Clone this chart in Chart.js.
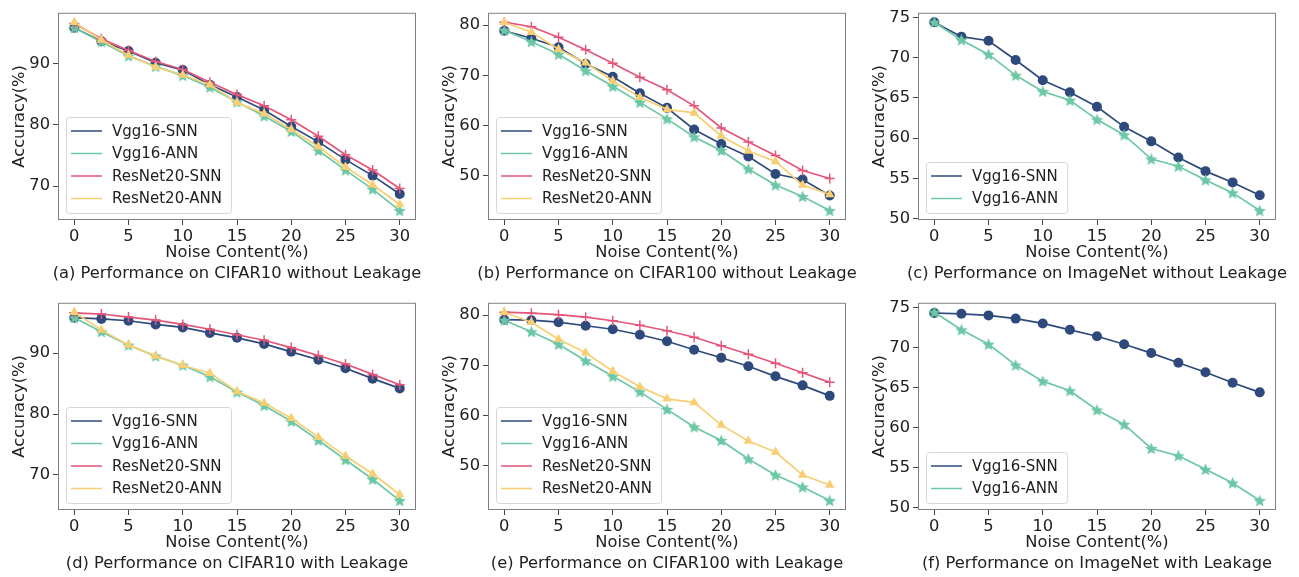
<!DOCTYPE html>
<html>
<head>
<meta charset="utf-8">
<script src="https://cdn.jsdelivr.net/npm/chart.js@4.4.1/dist/chart.umd.min.js"></script>
<style>
body { margin:0; background:#fff; width:1299px; height:577px; position:relative; overflow:hidden; font-family:'DejaVu Sans', sans-serif; }
.panel { position:absolute; width:430px; height:288px; }
.panel canvas { position:absolute; left:0; top:0; }
.caption { position:absolute; left:-79px; width:632px; top:263px; text-align:center; font-size:16.3px; line-height:20px; color:#222; white-space:nowrap; }
</style>
</head>
<body>
<div class="panel" style="left:0;top:0"><canvas id="chartA" width="430" height="288"></canvas><div class="caption">(a) Performance on CIFAR10 without Leakage</div></div>
<div class="panel" style="left:430px;top:0"><canvas id="chartB" width="430" height="288"></canvas><div class="caption">(b) Performance on CIFAR100 without Leakage</div></div>
<div class="panel" style="left:860px;top:0"><canvas id="chartC" width="430" height="288"></canvas><div class="caption">(c) Performance on ImageNet without Leakage</div></div>
<div class="panel" style="left:0;top:290px"><canvas id="chartD" width="430" height="288"></canvas><div class="caption">(d) Performance on CIFAR10 with Leakage</div></div>
<div class="panel" style="left:430px;top:290px"><canvas id="chartE" width="430" height="288"></canvas><div class="caption">(e) Performance on CIFAR100 with Leakage</div></div>
<div class="panel" style="left:860px;top:290px"><canvas id="chartF" width="430" height="288"></canvas><div class="caption">(f) Performance on ImageNet with Leakage</div></div>
<script>
// noise levels on the x axis and tick values
const noiseLevels = [0, 2.5, 5, 7.5, 10, 12.5, 15, 17.5, 20, 22.5, 25, 27.5, 30];
const xTickValues = [0, 5, 10, 15, 20, 25, 30];
const seriesLabels = ['Vgg16-SNN', 'Vgg16-ANN', 'ResNet20-SNN', 'ResNet20-ANN'];

// (a) CIFAR10 without leakage
const cifar10NoLeakVggSnn = [95.8, 93.6, 92.0, 90.1, 88.9, 86.5, 84.5, 82.4, 79.7, 77.2, 74.3, 71.7, 68.7];
const cifar10NoLeakVggAnn = [95.8, 93.5, 91.2, 89.5, 88.0, 86.1, 83.7, 81.4, 78.9, 75.8, 72.6, 69.5, 66.0];
const cifar10NoLeakResSnn = [96.5, 94.0, 92.1, 90.3, 89.0, 86.9, 84.9, 83.1, 80.8, 78.1, 75.1, 72.6, 69.6];
const cifar10NoLeakResAnn = [96.7, 93.8, 91.3, 89.4, 88.1, 86.5, 83.6, 81.8, 79.2, 76.4, 73.1, 70.2, 67.0];

// (b) CIFAR100 without leakage
const cifar100NoLeakVggSnn = [78.9, 77.4, 75.6, 72.3, 69.7, 66.4, 63.5, 59.2, 56.3, 53.8, 50.3, 49.2, 46.0];
const cifar100NoLeakVggAnn = [79.0, 76.7, 74.2, 70.9, 67.8, 64.6, 61.3, 57.7, 55.0, 51.3, 48.1, 45.8, 43.0];
const cifar100NoLeakResSnn = [80.6, 79.7, 77.6, 75.1, 72.4, 69.6, 67.1, 63.9, 59.5, 56.7, 54.0, 51.0, 49.4];
const cifar100NoLeakResAnn = [80.6, 78.6, 75.2, 72.5, 68.9, 65.6, 63.2, 62.5, 57.9, 54.9, 52.8, 48.1, 46.2];

// (c) ImageNet without leakage
const imagenetNoLeakVggSnn = [74.4, 72.6, 72.1, 69.7, 67.2, 65.7, 63.9, 61.4, 59.6, 57.6, 55.9, 54.5, 52.9];
const imagenetNoLeakVggAnn = [74.4, 72.2, 70.4, 67.8, 65.8, 64.7, 62.3, 60.4, 57.4, 56.5, 54.8, 53.2, 51.0];

// (d) CIFAR10 with leakage
const cifar10LeakVggSnn = [95.8, 95.6, 95.3, 94.7, 94.2, 93.3, 92.5, 91.5, 90.2, 88.9, 87.5, 85.8, 84.2];
const cifar10LeakVggAnn = [95.8, 93.5, 91.3, 89.5, 88.0, 86.1, 83.6, 81.4, 78.8, 75.7, 72.5, 69.3, 65.8];
const cifar10LeakResSnn = [96.6, 96.4, 95.9, 95.4, 94.7, 93.9, 93.0, 92.1, 90.9, 89.6, 88.2, 86.5, 84.8];
const cifar10LeakResAnn = [96.7, 93.8, 91.3, 89.5, 88.0, 86.7, 83.7, 81.8, 79.3, 76.2, 73.1, 70.2, 66.8];

// (e) CIFAR100 with leakage
const cifar100LeakVggSnn = [79.1, 79.0, 78.6, 77.9, 77.2, 76.1, 74.8, 73.1, 71.5, 69.8, 67.8, 66.0, 63.9];
const cifar100LeakVggAnn = [79.0, 76.7, 74.2, 70.9, 67.8, 64.7, 61.2, 57.7, 55.0, 51.3, 48.1, 45.7, 43.0];
const cifar100LeakResSnn = [80.6, 80.4, 80.1, 79.6, 78.9, 78.0, 76.9, 75.6, 73.9, 72.2, 70.4, 68.5, 66.6];
const cifar100LeakResAnn = [80.6, 78.6, 75.2, 72.5, 68.8, 65.7, 63.3, 62.6, 58.1, 54.9, 52.7, 48.1, 46.1];

// (f) ImageNet with leakage
const imagenetLeakVggSnn = [74.3, 74.2, 74.0, 73.6, 73.0, 72.2, 71.4, 70.4, 69.3, 68.1, 66.9, 65.6, 64.4];
const imagenetLeakVggAnn = [74.4, 72.2, 70.4, 67.8, 65.8, 64.6, 62.2, 60.4, 57.4, 56.5, 54.8, 53.1, 50.9];

// y tick values
const cifar10Ticks = [70, 80, 90];
const cifar100Ticks = [50, 60, 70, 80];
const imagenetTicks = [50, 55, 60, 65, 70, 75];

const FONT = "'DejaVu Sans', sans-serif";
const AXIS_SIZE = 16.3;
const TEXT = '#222';
const colors = ['#2e4a7d', '#6cc7a4', '#e5557a', '#f7cf72'];

function makeStar(color, size) {
    const c = document.createElement('canvas');
    c.width = size; c.height = size;
    const ctx = c.getContext('2d');
    const cx = size / 2, cy = size / 2 + 0.5, R = size / 2, r = R * 0.45;
    ctx.beginPath();
    for (let i = 0; i < 10; i++) {
        const rad = i % 2 === 0 ? R : r;
        const a = -Math.PI / 2 + i * Math.PI / 5;
        const x = cx + rad * Math.cos(a), y = cy + rad * Math.sin(a);
        if (i === 0) ctx.moveTo(x, y); else ctx.lineTo(x, y);
    }
    ctx.closePath();
    ctx.fillStyle = color;
    ctx.fill();
    return c;
}
const starImg = makeStar(colors[1], 13);

const markers = [
    { pointStyle: 'circle', pointRadius: 5, pointBorderWidth: 0 },
    { pointStyle: starImg, pointRadius: 6, pointBorderWidth: 0 },
    { pointStyle: 'cross', pointRadius: 5, pointBorderWidth: 1.5 },
    { pointStyle: 'triangle', pointRadius: 5.5, pointBorderWidth: 0 }
];

// full box around plot area + legend inside lower-left
const framePlugin = {
    id: 'frame',
    afterDatasetsDraw(chart) {
        const { ctx, chartArea: a } = chart;
        ctx.save();
        ctx.strokeStyle = '#808080';
        ctx.lineWidth = 1;
        ctx.strokeRect(a.left + 0.5, a.top + 0.5, a.right - a.left - 1, a.bottom - a.top - 1);

        // legend
        const ds = chart.data.datasets;
        ctx.font = '15px ' + FONT;
        let maxW = 0;
        ds.forEach(d => { maxW = Math.max(maxW, ctx.measureText(d.label).width); });
        const rowH = 22.5;
        const w = 46 + maxW + 9;
        const h = ds.length * rowH + 6;
        const x0 = a.left + 8;
        const y0 = a.bottom - 7 - h;
        ctx.beginPath();
        ctx.roundRect(x0 + 0.5, y0 + 0.5, w, h, 3);
        ctx.fillStyle = 'rgba(255,255,255,0.8)';
        ctx.fill();
        ctx.strokeStyle = '#d6d6d6';
        ctx.stroke();
        ds.forEach((d, i) => {
            const cy = y0 + 14 + i * rowH;
            ctx.beginPath();
            ctx.moveTo(x0 + 5, cy);
            ctx.lineTo(x0 + 36, cy);
            ctx.strokeStyle = d.borderColor;
            ctx.lineWidth = 1.5;
            ctx.stroke();
            ctx.fillStyle = TEXT;
            ctx.textBaseline = 'middle';
            ctx.textAlign = 'left';
            ctx.fillText(d.label, x0 + 46, cy + 1);
        });
        ctx.restore();
    }
};

function makePanel(canvasId, seriesList, yTicks) {
    const all = seriesList.flat();
    const lo = Math.min(...all), hi = Math.max(...all);
    const pad = (hi - lo) * 0.05;

    const datasets = seriesList.map((vals, i) => ({
        label: seriesLabels[i],
        data: noiseLevels.map((x, j) => ({ x, y: vals[j] })),
        borderColor: colors[i],
        backgroundColor: colors[i],
        pointBackgroundColor: colors[i],
        pointBorderColor: colors[i],
        borderWidth: 1.7,
        tension: 0,
        order: -i,
        ...markers[i]
    }));

    return new Chart(document.getElementById(canvasId), {
        type: 'line',
        data: { datasets },
        plugins: [framePlugin],
        options: {
            responsive: false,
            animation: false,
            layout: { padding: { left: 0, right: 14, top: 5, bottom: 24 } },
            plugins: { legend: { display: false }, tooltip: { enabled: false } },
            scales: {
                x: {
                    type: 'linear',
                    min: -1.5, max: 31.5,
                    afterBuildTicks: s => { s.ticks = xTickValues.map(v => ({ value: v })); },
                    afterFit: s => { s.height = 44; },
                    border: { display: false },
                    grid: { drawOnChartArea: false, drawTicks: true, tickLength: 5, color: '#444', lineWidth: 1 },
                    ticks: { font: { family: FONT, size: AXIS_SIZE }, color: TEXT, padding: 2, maxRotation: 0 },
                    title: { display: true, text: 'Noise Content(%)', font: { family: FONT, size: AXIS_SIZE }, color: TEXT, padding: { top: 0, bottom: 1 } }
                },
                y: {
                    min: lo - pad, max: hi + pad,
                    afterBuildTicks: s => { s.ticks = yTicks.map(v => ({ value: v })); },
                    afterFit: s => { s.width = 58; },
                    border: { display: false },
                    grid: { drawOnChartArea: false, drawTicks: true, tickLength: 5, color: '#444', lineWidth: 1 },
                    ticks: { font: { family: FONT, size: AXIS_SIZE }, color: TEXT, padding: 3 },
                    title: { display: true, text: 'Accuracy(%)', font: { family: FONT, size: AXIS_SIZE }, color: TEXT, padding: { top: 10, bottom: 0 } }
                }
            }
        }
    });
}

makePanel('chartA', [cifar10NoLeakVggSnn, cifar10NoLeakVggAnn, cifar10NoLeakResSnn, cifar10NoLeakResAnn], cifar10Ticks);
makePanel('chartB', [cifar100NoLeakVggSnn, cifar100NoLeakVggAnn, cifar100NoLeakResSnn, cifar100NoLeakResAnn], cifar100Ticks);
makePanel('chartC', [imagenetNoLeakVggSnn, imagenetNoLeakVggAnn], imagenetTicks);
makePanel('chartD', [cifar10LeakVggSnn, cifar10LeakVggAnn, cifar10LeakResSnn, cifar10LeakResAnn], cifar10Ticks);
makePanel('chartE', [cifar100LeakVggSnn, cifar100LeakVggAnn, cifar100LeakResSnn, cifar100LeakResAnn], cifar100Ticks);
makePanel('chartF', [imagenetLeakVggSnn, imagenetLeakVggAnn], imagenetTicks);
</script>
</body>
</html>
